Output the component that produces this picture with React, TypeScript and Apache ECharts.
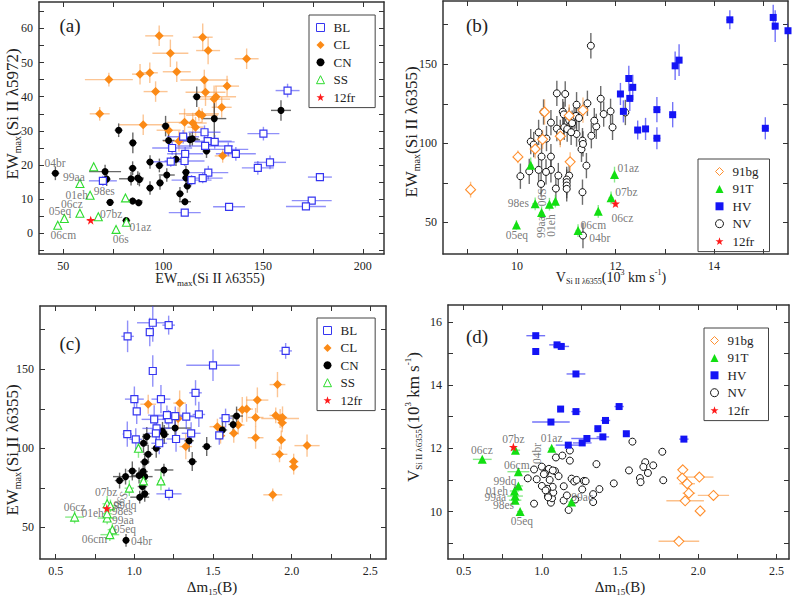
import React, { useEffect, useRef } from "react";
import * as echarts from "echarts";

const F = "'Liberation Serif', 'Times New Roman', serif";

// ---------- Panel (a): EWmax(6355) vs EWmax(5972) ----------
const aBL = [[162.3,41.8,6,2],[150.2,29.2,8,2],[110,28.3,8,2],[120.7,29.6,8,2],[104.5,25,10,2],[122.3,27,12,2],[125.8,26.8,10,2],[121,25.6,14,2],[132.6,24.6,10,2],[136.4,23.3,10,2],[111,23.3,9,2],[103.8,21,9,1.5],[110.7,21.2,10,1.5],[153.5,20.8,8,2],[147.4,19.2,8,2],[122.6,17.8,10,2],[119.8,16.2,10,1.5],[114.2,15.6,10,1.5],[178.5,16.5,6,1],[174.4,9.6,10,1],[171.5,7.9,10,1],[133,7.8,8,1],[110.8,6.1,8,1],[69.8,15.4,7,1.5]];
const aCL = [[98,57.8,7,3],[119.8,57.4,5,4],[103.6,52.7,9,4],[122.5,53.5,6,4],[141.8,51.1,6,3],[72.8,45,12,2],[88.4,46.6,4,3],[93.3,47,4,3],[106.8,47.3,7,3],[120.6,44.9,12,3],[121.2,41.3,10,4],[132,43.1,6,3],[96.2,41.5,6,3],[126.5,40,10,3],[125.5,39.3,8,4],[129.3,36.9,5,3],[68.2,35,5,2],[90,31.8,12,3],[102.7,30.2,6,2],[110.7,32.5,9,4],[114.8,32.3,7,3],[116.2,31.1,4,3],[117.9,35,10,2],[119.5,34.6,8,2],[107.9,27,8,3],[129.8,22.7,4,2]];
const aCN = [[116.8,40,2,3],[159,36,5,3],[77.7,30.2,2,2],[101.2,31.4,2,3],[125.6,33.6,6,6],[84.8,26.5,2,3],[102.7,27.2,3,2],[113.4,27.4,5,2],[114.6,27.7,3,2],[121.7,24.1,2,2],[106.4,21.7,3,2],[93.4,20.9,2,2],[98.1,19.9,2,2],[84.7,19.1,2,2],[70.9,18.1,8,2],[71.7,15.9,2,2],[83.9,16,6,2],[87.3,16.2,3,2],[88.1,15.8,2,2],[101.8,17.1,4,2],[111.4,17.9,2,2],[111.4,16.2,2,2],[93.4,13.3,2,2],[98.4,14.8,2,2],[112.1,13.9,2,2],[108.4,11.6,2,2],[73.4,9.1,2,1],[84.7,9.5,5,1],[87.7,9,2,1],[110.9,9.3,3,1],[81.5,3.8,2,1],[46,17.6,2,2]];
const aSS = [[65.2,19.5],[58.3,14.6],[63.4,11.2],[81.1,10.4],[58.3,5.9],[50.5,4.4],[47.2,2.4],[67.5,4.9],[76.4,1.2],[81.6,3.3]];
const a12fr = [[63.7,3.9,2,0.5]];
const aLabels = [["04br",45.8,20.5],["99aa",55.3,16.6],["01eh",56.7,11.2],["98es",70.5,12.4],["06cz",54.3,8.6],["05eq",48.3,6.5],["07bz",73.9,5.6],["06cm",50,-0.5],["01az",88.6,2],["06s",78.7,-1.5]];
const aXLabels = [50,100,150,200];
const aXTicks = [50,75,100,125,150,175,200];
const aYLabels = [0,10,20,30,40,50,60];
const aYTicks = [-5,0,5,10,15,20,25,30,35,40,45,50,55,60,65];

// ---------- Panel (b): V(6355) vs EWmax(6355) ----------
const bNV = [[11.5,161.7],[10.81,131.6],[10.98,131.2],[11.21,124.4],[11.43,125.3],[11.7,128.2],[11.76,118.5],[11.9,120.2],[11.94,110.1],[11.61,110.7],[11.57,114.3],[11.51,104.8],[10.54,119.8],[10.69,113.1],[10.81,109.3],[10.88,106.9],[10.93,120],[10.95,118.3],[11.06,114.7],[11.12,112.8],[11.16,116.8],[11.2,117.3],[11.26,116],[10.96,110.1],[11.21,105.9],[11.33,101.7],[11.31,96.2],[11.34,99.6],[10.44,106.9],[10.28,101.1],[10.34,99.2],[10.5,91.6],[10.69,91.6],[10.69,83.2],[10.44,83.2],[10.25,82.3],[10.07,79.2],[10.59,81.9],[10.84,79.6],[11.06,79.6],[11.01,77.1],[11.01,75.4],[11.01,73.3],[11.01,71.2],[10.79,71.4],[11.41,85.9],[11.33,69.1],[10.49,74.3],[11.34,41.7],[12.2,119.5],[11.02,109],[11.1,107],[10.6,103]];
const bNVerr = [0.03, 8];
const bHV = [[14.32,178.1,0.07,6],[15.2,179.6,0.05,8],[15.24,174.1,0.05,10],[15.5,171.2,0.05,5],[13.29,152.6,0.06,10],[13.21,149,0.05,9],[12.27,141,0.05,8],[12.35,135.4,0.05,8],[12.1,131.2,0.05,7],[12.29,128.4,0.05,8],[12.16,120.2,0.05,7],[12.84,121.3,0.07,8],[13.16,118.1,0.07,8],[12.45,108.4,0.07,6],[12.61,109.1,0.07,7],[12.84,103.2,0.07,7],[15.04,109.5,0.07,7]];
const b91bg = [[9.06,70.7,0.08,5],[10.02,91.4,0.08,4],[11.08,88.3,0.08,6],[10.56,119.8,0.05,8],[11.34,121,0.05,8],[10.37,96.4,0.05,6],[10.52,102.5,0.05,6],[10.88,104.5,0.05,7],[11.06,117.5,0.05,7]];
const b91T = [[9.99,48.4,0.04,3],[10.37,61.7,0.06,4],[10.5,56.2,0.05,4],[10.66,61.5,0.05,4],[10.78,63.4,0.05,4],[11.65,57,0.05,4],[11.24,44.8,0.05,4],[11.91,65.5,0.05,4],[11.98,80.2,0.04,5],[10.28,86.1,0.05,5]];
const b12fr = [[12,61.9,0.03,2]];
const bLabels = [["01az",12.26,84.2,0],["07bz",12.22,69.5,0],["98es",10.03,62.1,0],["06S",10.5,65.9,90],["99aa",10.48,47,90],["01eh",10.69,48,90],["06cz",12.14,52.8,0],["06cm",11.55,48.6,0],["04br",11.68,40.2,0],["05eq",10,41.7,0]];
const bXLabels = [10,12,14];
const bXTicks = [9,10,11,12,13,14,15];
const bYLabels = [50,100,150];
const bYTicks = [50,75,100,125,150,175];

// ---------- Panel (c): dm15 vs EWmax(6355) ----------
const cBL = [[0.957,170.8,0.04,10],[1.098,173.5,0.02,9],[1.117,179.4,0.1,12],[1.218,177.9,0.04,6],[1.117,148.9,0.02,10],[1.5,152.5,0.17,10],[1.962,161.6,0.04,5],[1.0,131.1,0.06,8],[1.169,131.1,0.06,9],[1.389,135.1,0.04,8],[1.015,123.3,0.02,8],[1.126,118.3,0.08,9],[1.218,118.3,0.04,6],[1.207,121,0.12,6],[1.26,120.4,0.12,6],[1.33,120,0.08,8],[1.41,121.4,0.04,8],[1.58,119.1,0.04,6],[1.54,108.2,0.02,6],[1.361,109.5,0.06,7],[1.265,105.9,0.06,8],[0.955,109,0.03,8],[1.009,105.7,0.04,7],[1.141,112.6,0.09,8],[1.137,109.5,0.06,7],[1.158,103.2,0.05,7],[1.22,71.2,0.08,4]];
const cCL = [[1.088,127.9,0.05,6],[1.288,128.6,0.04,8],[1.278,118.9,0.04,7],[1.327,101.1,0.04,8],[1.528,113.7,0.05,5],[1.548,108,0.03,5],[1.632,109.5,0.03,6],[1.66,114.7,0.04,6],[1.686,124.4,0.04,8],[1.714,124.8,0.04,8],[1.782,130.5,0.07,8],[1.771,119.5,0.05,6],[1.771,106.7,0.05,7],[1.91,140.3,0.05,8],[1.899,120.8,0.04,5],[1.927,118.9,0.12,6],[1.942,119.5,0.03,7],[1.94,116.2,0.03,6],[1.934,105.3,0.03,6],[1.923,96.2,0.05,5],[2.098,101.7,0.08,7],[2.013,91.6,0.03,5],[2.013,88.4,0.03,5],[1.88,70.6,0.06,4]];
const cCN = [[1.65,120.4,0.04,6],[1.56,111.6,0.03,5],[1.628,115.1,0.03,6],[1.259,112.8,0.1,6],[1.179,110.7,0.03,6],[1.19,108.8,0.03,6],[1.079,107.4,0.03,6],[1.058,103.2,0.03,6],[1.139,100,0.03,6],[1.348,104.8,0.03,7],[1.46,101.1,0.03,6],[1.368,91.6,0.03,6],[1.088,96.2,0.03,6],[1.066,91.4,0.03,6],[1.188,86.3,0.06,4],[1.056,85.3,0.03,5],[0.987,85.7,0.03,6],[0.944,82.1,0.08,5],[0.906,79.6,0.03,5],[1.03,82.8,0.05,5],[1.066,82.1,0.05,5],[1.051,75.8,0.03,5],[1.066,71.2,0.03,5],[1.034,69.1,0.06,4],[0.947,41.8,0.02,4]];
const cSS = [[1.026,100,0.02,6],[0.968,74.8,0.03,5],[1.058,79.4,0.03,5],[1.169,79.4,0.02,6],[0.827,64.9,0.03,5],[0.848,63.6,0.04,4],[0.827,55.9,0.06,4],[0.62,56.5,0.06,4],[0.86,48.5,0.03,4],[0.844,45.4,0.06,4],[0.827,58.6,0.03,4]];
const c12fr = [[0.825,62,0.02,2]];
const cLabels = [["07bz",0.82,72.5,0],["06S",0.912,67.4,60],["06cz",0.62,63.2,0],["99dq",0.94,64.3,0],["01eh",0.735,59,0],["98es",0.923,60.1,0],["99aa",0.927,54.8,0],["05eq",0.94,49,0],["06cm",0.746,42.6,0],["04br",1.045,41.4,0]];
const cdXLabels = [0.5,1.0,1.5,2.0,2.5];
const cdXTicks = [0.5,0.75,1.0,1.25,1.5,1.75,2.0,2.25,2.5];

// ---------- Panel (d): dm15 vs V(6355) ----------
const dHV = [[0.961,15.56,0.06,0.05],[0.961,15.06,0,0.05],[1.097,15.27,0.05,0.04],[1.124,15.22,0.05,0.04],[1.218,14.35,0.06,0.05],[1.12,13.24,0.02,0.05],[1.218,13.16,0.03,0.05],[1.058,12.83,0.12,0.04],[1.494,13.32,0.03,0.04],[1.407,12.88,0.03,0.04],[1.358,12.62,0.02,0.04],[1.39,12.36,0.04,0.04],[1.54,12.46,0.02,0.04],[1.288,12.31,0.1,0.04],[1.258,12.17,0.06,0.04],[1.169,12.1,0.08,0.04],[1.908,12.29,0.03,0.04]];
const d91bg = [[1.901,11.32,0.02,0],[1.897,11.06,0.03,0],[2.007,11.09,0.09,0],[1.929,10.88,0.05,0],[1.94,10.58,0.04,0],[2.097,10.51,0.1,0],[1.916,10.34,0.12,0],[2.012,10.02,0,0],[1.876,9.06,0.13,0]];
const d91T = [[0.619,11.65,0.06,0.03],[0.831,11.94,0.03,0.05],[1.063,12,0.02,0.03],[0.85,11.26,0.07,0.03],[0.85,10.81,0.03,0.03],[0.825,10.65,0.03,0.03],[0.829,10.49,0.05,0.03],[0.829,10.36,0.04,0.03],[0.861,10,0.02,0.03],[1.19,10.3,0.02,0.03]];
const d12fr = [[0.818,12.04]];
const dNV = [[1.579,12.21],[1.179,11.93],[1.09,11.71],[1.131,11.77],[1.179,11.61],[1.77,11.89],[1.661,11.56],[1.649,11.41],[1.712,11.46],[1.678,11.22],[1.627,11.06],[1.631,10.93],[1.776,10.99],[1.557,11.3],[1.349,11.5],[1.46,10.89],[1.368,10.71],[1.328,10.55],[1.328,10.3],[1.171,10.05],[1.139,10.35],[0.95,10.25],[1.058,10.28],[1.065,10.42],[1.073,10.6],[1.069,10.78],[1.039,10.49],[1.033,10.72],[0.967,11.02],[1.0,11.42],[1.035,11.31],[1.045,11.35],[1.084,11.28],[1.107,11.12],[0.95,11.33],[1.19,11.04],[1.207,10.95],[1.222,11.0],[1.269,10.97],[1.28,10.96],[1.258,10.7],[1.16,10.51],[1.213,10.38],[0.91,11.05],[1.0,10.81],[1.024,10.67],[1.05,11.0],[1.02,11.2],[1.013,11.18],[1.07,11.3],[1.14,10.8],[1.04,10.45]];
const dLabels = [["06cz",0.617,11.94,0],["07bz",0.818,12.28,0],["01az",1.063,12.33,0],["04br",0.967,11.84,90],["06cm",0.84,11.47,0],["99dq",0.765,10.97,0],["01eh",0.712,10.65,0],["99aa",0.702,10.47,0],["98es",0.755,10.21,0],["05eq",0.872,9.71,0],["99ac",1.258,10.47,0]];
const dYLabels = [10,12,14,16];
const dYTicks = [9,10,11,12,13,14,15,16];

const legendAC = ["BL", "CL", "CN", "SS", "12fr"];
const legendBD = ["91bg", "91T", "HV", "NV", "12fr"];

const STAR = "path://M0,-10L2.35,-3.24L9.51,-3.09L3.8,1.24L5.88,8.09L0,4L-5.88,8.09L-3.8,1.24L-9.51,-3.09L-2.35,-3.24Z";

const STY: any = {
  BL: { symbol: "rect", size: 7, item: { color: "#fff", borderColor: "#3636f0", borderWidth: 1.2 }, err: "rgba(70,70,245,0.6)" },
  CL: { symbol: "diamond", size: 9, item: { color: "#fb8a16" }, err: "rgba(250,150,60,0.55)" },
  CN: { symbol: "circle", size: 7, item: { color: "#000" }, err: "rgba(40,40,40,0.7)" },
  SS: { symbol: "triangle", size: 8, item: { color: "#fff", borderColor: "#2fdc2f", borderWidth: 1.1 }, err: "rgba(60,220,60,0.6)" },
  "12fr": { symbol: STAR, size: 9, item: { color: "#ff1a1a" }, err: "rgba(255,60,60,0.6)" },
  HV: { symbol: "rect", size: 7, item: { color: "#1414f5" }, err: "rgba(40,40,245,0.65)" },
  NV: { symbol: "circle", size: 7, item: { color: "#fff", borderColor: "#111", borderWidth: 1 }, err: "rgba(60,60,60,0.75)" },
  "91bg": { symbol: "diamond", size: 10, item: { color: "#fff", borderColor: "#ff8f2e", borderWidth: 1.1 }, err: "rgba(250,150,60,0.6)" },
  "91T": { symbol: "triangle", size: 9, item: { color: "#12df12" }, err: "rgba(60,220,60,0.6)" },
};

function errSeries(gi: number, name: string, data: number[][], def?: number[]) {
  const color = STY[name].err;
  const rows = data.map((d) => [d[0], d[1], d.length > 2 ? d[2] : def ? def[0] : 0, d.length > 3 ? d[3] : def ? def[1] : 0]);
  return {
    type: "custom",
    name: "err-" + name + gi,
    xAxisIndex: gi * 2,
    yAxisIndex: gi * 2,
    data: rows,
    clip: true,
    silent: true,
    z: 1,
    encode: { x: 0, y: 1 },
    renderItem: (_p: any, api: any) => {
      const x = api.value(0), y = api.value(1);
      const ex = api.value(2) || 0, ey = api.value(3) || 0;
      const ch: any[] = [];
      if (ex > 0) {
        const a = api.coord([x - ex, y]), b = api.coord([x + ex, y]);
        ch.push({ type: "line", shape: { x1: a[0], y1: a[1], x2: b[0], y2: b[1] }, style: { stroke: color, lineWidth: 1.4 } });
      }
      if (ey > 0) {
        const a = api.coord([x, y - ey]), b = api.coord([x, y + ey]);
        ch.push({ type: "line", shape: { x1: a[0], y1: a[1], x2: b[0], y2: b[1] }, style: { stroke: color, lineWidth: 1.4 } });
      }
      return { type: "group", children: ch };
    },
  };
}

function ptSeries(gi: number, name: string, data: number[][]) {
  const s = STY[name];
  return {
    type: "scatter",
    name,
    xAxisIndex: gi * 2,
    yAxisIndex: gi * 2,
    data: data.map((d) => [d[0], d[1]]),
    symbol: s.symbol,
    symbolSize: s.size,
    itemStyle: { ...s.item, opacity: 1 },
    z: 3,
    silent: true,
  };
}

function group(gi: number, name: string, data: number[][], def?: number[]) {
  return [errSeries(gi, name, data, def), ptSeries(gi, name, data)];
}

function labelSeries(gi: number, arr: any[]) {
  return {
    type: "scatter",
    name: "labels" + gi,
    xAxisIndex: gi * 2,
    yAxisIndex: gi * 2,
    symbolSize: 1,
    itemStyle: { color: "rgba(0,0,0,0)" },
    silent: true,
    z: 5,
    data: arr.map((l) => ({ name: l[0], value: [l[1], l[2]], label: { rotate: l[3] || 0 } })),
    label: { show: true, position: "inside", formatter: "{b}", fontFamily: F, fontSize: 11.5, color: "#555" },
  };
}

const axisLine = { show: true, onZero: false, lineStyle: { color: "#333", width: 1.5 } };
const tickStyle = { color: "#333", width: 1 };

function xAxes(gi: number, min: number, max: number, labels: number[], ticks: number[], fmt?: any) {
  const base = { gridIndex: gi, type: "value", min, max, splitLine: { show: false }, axisLine };
  const lab: any = { show: true, customValues: labels, fontFamily: F, fontSize: 12, color: "#222", margin: 6 };
  if (fmt) lab.formatter = fmt;
  return [
    { ...base, position: "bottom", axisTick: { show: true, inside: true, length: 5, customValues: ticks, lineStyle: tickStyle }, axisLabel: lab },
    { ...base, position: "top", axisTick: { show: true, inside: true, length: 5, customValues: ticks, lineStyle: tickStyle }, axisLabel: { show: false } },
  ];
}
function yAxes(gi: number, min: number, max: number, labels: number[], ticks: number[]) {
  const base = { gridIndex: gi, type: "value", min, max, splitLine: { show: false }, axisLine };
  return [
    { ...base, position: "left", axisTick: { show: true, inside: true, length: 5, customValues: ticks, lineStyle: tickStyle }, axisLabel: { show: true, customValues: labels, fontFamily: F, fontSize: 12, color: "#222", margin: 6 } },
    { ...base, position: "right", axisTick: { show: true, inside: true, length: 5, customValues: ticks, lineStyle: tickStyle }, axisLabel: { show: false } },
  ];
}

function richSet(main: number, sub: number, off: number) {
  return {
    m: { fontSize: main, fontFamily: F, fill: "#222", verticalAlign: "middle" },
    s: { fontSize: sub, fontFamily: F, fill: "#222", verticalAlign: "middle", padding: [off, 0, 0, 0] },
    p: { fontSize: sub, fontFamily: F, fill: "#222", verticalAlign: "middle", padding: [0, 0, off, 0] },
  };
}
const EW = (n: string) => `{m|EW}{s|max}{m|(Si II λ${n})}`;
const VEL = "{m|V}{s|Si II λ6355}{m|(10}{p|3}{m| km s}{p|-1}{m|)}";
const DM = "{m|Δm}{s|15}{m|(B)}";

function title(x: number, y: number, text: string, rot: number, main: number, sub: number) {
  return { type: "text", x, y, rotation: rot, z: 10, style: { text, rich: richSet(main, sub, Math.round(main * 0.65)), align: "center", verticalAlign: "middle", fontFamily: F, fontSize: main, fill: "#222" } };
}
function panelTag(x: number, y: number, t: string) {
  return { type: "text", x, y, z: 10, style: { text: t, fontFamily: F, fontSize: 19, fill: "#222", align: "center", verticalAlign: "middle" } };
}
function legend(left: number, top: number, data: string[], pad: number[]) {
  return {
    orient: "vertical", left, top, data, selectedMode: false,
    borderColor: "#444", borderWidth: 1, padding: pad, itemGap: 4.4, itemWidth: 8, itemHeight: 8,
    itemStyle: { borderWidth: 1 },
    textStyle: { fontFamily: F, fontSize: 13, color: "#222", lineHeight: 11, padding: [0, 0, 0, 4] },
  };
}

export default function App() {
  const ref = useRef<HTMLDivElement>(null);
  useEffect(() => {
    const chart = echarts.init(ref.current!, undefined, { renderer: "svg" });
    const fmt1 = (v: number) => Number(v).toFixed(1);
    const option: any = {
      animation: false,
      backgroundColor: "#fff",
      grid: [
        { left: 39, top: 2, width: 345, height: 252 },
        { left: 443, top: 1, width: 345, height: 253 },
        { left: 40, top: 306, width: 346, height: 253 },
        { left: 448, top: 305, width: 341, height: 254 },
      ],
      xAxis: [
        ...xAxes(0, 37.8, 210.6, aXLabels, aXTicks),
        ...xAxes(1, 8.5, 15.5, bXLabels, bXTicks),
        ...xAxes(2, 0.4, 2.6, cdXLabels, cdXTicks, fmt1),
        ...xAxes(3, 0.4, 2.58, cdXLabels, cdXTicks, fmt1),
      ],
      yAxis: [
        ...yAxes(0, -6, 67.7, aYLabels, aYTicks),
        ...yAxes(1, 30, 190, bYLabels, bYTicks),
        ...yAxes(2, 30, 190, bYLabels, bYTicks),
        ...yAxes(3, 8.5, 16.53, dYLabels, dYTicks),
      ],
      legend: [
        legend(309, 15, legendAC, [6, 20, 4, 7]),
        legend(698, 159, legendBD, [6, 11, 4, 17]),
        legend(317, 318, legendAC, [6, 13, 4, 6]),
        legend(704, 328, legendBD, [6, 15, 4, 6]),
      ],
      series: [
        ...group(0, "CL", aCL),
        ...group(0, "CN", aCN),
        ...group(0, "BL", aBL),
        ...group(0, "SS", aSS),
        ...group(0, "12fr", a12fr),
        labelSeries(0, aLabels),
        ...group(1, "NV", bNV, bNVerr),
        ...group(1, "91bg", b91bg),
        ...group(1, "HV", bHV),
        ...group(1, "91T", b91T),
        ...group(1, "12fr", b12fr),
        labelSeries(1, bLabels),
        ...group(2, "CL", cCL),
        ...group(2, "CN", cCN),
        ...group(2, "BL", cBL),
        ...group(2, "SS", cSS),
        ...group(2, "12fr", c12fr),
        labelSeries(2, cLabels),
        ...group(3, "NV", dNV),
        ...group(3, "91bg", d91bg),
        ...group(3, "HV", dHV),
        ...group(3, "91T", d91T),
        ...group(3, "12fr", d12fr),
        labelSeries(3, dLabels),
      ],
      graphic: [
        panelTag(70, 25, "(a)"),
        panelTag(477, 25, "(b)"),
        panelTag(70, 343, "(c)"),
        panelTag(477, 336, "(d)"),
        title(210, 278, EW("6355"), 0, 14, 9),
        title(12, 114, EW("5972"), Math.PI / 2, 17, 10),
        title(611, 277, VEL, 0, 14, 8),
        title(411, 132, EW("6355"), Math.PI / 2, 17, 10),
        title(12, 450, EW("6355"), Math.PI / 2, 17, 10),
        title(620, 587, DM, 0, 15, 9),
        title(212, 587, DM, 0, 15, 9),
        title(413, 417, VEL, Math.PI / 2, 17, 9),
      ],
    };
    chart.setOption(option);
    return () => chart.dispose();
  }, []);
  return <div ref={ref} style={{ position: "absolute", left: 0, top: 0, width: 794, height: 599, background: "#fff" }} />;
}
